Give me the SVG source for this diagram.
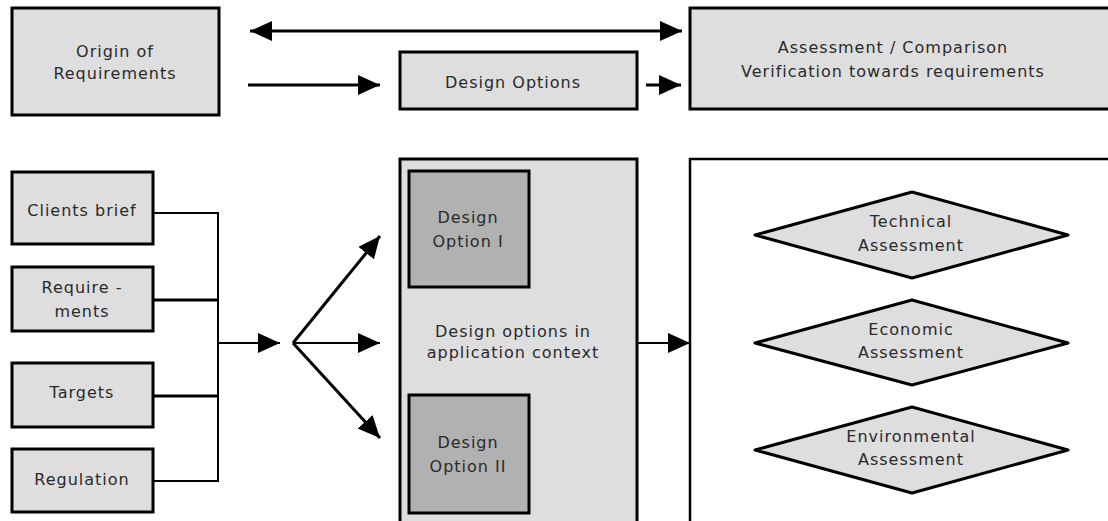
<svg xmlns="http://www.w3.org/2000/svg" width="1108" height="521" viewBox="0 0 1108 521">
  <style>
    .box { fill: #dedede; stroke: #000; stroke-width: 3; }
    .inner { fill: #b1b1b1; stroke: #000; stroke-width: 3; }
    .panel { fill: #fff; stroke: #000; stroke-width: 2.5; }
    .dia { fill: #dedede; stroke: #000; stroke-width: 3; stroke-linejoin: round; }
    .lbl { font-family: "DejaVu Sans", Verdana, sans-serif; font-size: 16px; letter-spacing: 1px; fill: #2a2a2a; text-anchor: middle; }
    .wire { fill: none; stroke: #000; stroke-width: 2; }
    .thick { fill: none; stroke: #000; stroke-width: 3; }
  </style>
  <defs>
    <marker id="head" viewBox="0 0 22 20" refX="22" refY="10" markerWidth="22" markerHeight="20" markerUnits="userSpaceOnUse" orient="auto-start-reverse">
      <path d="M0,0 L22,10 L0,20 Z" fill="#000"/>
    </marker>
  </defs>

  <rect width="1108" height="521" fill="#fff"/>

  <!-- top row -->
  <g id="origin">
    <rect class="box" x="12" y="8" width="207" height="107"/>
    <text class="lbl" x="115" y="57">Origin of</text>
    <text class="lbl" x="115" y="79">Requirements</text>
  </g>
  <g id="design-options">
    <rect class="box" x="400" y="52" width="237" height="57"/>
    <text class="lbl" x="513" y="88">Design Options</text>
  </g>
  <g id="assessment">
    <rect class="box" x="690" y="8" width="425" height="101"/>
    <text class="lbl" x="893" y="53">Assessment / Comparison</text>
    <text class="lbl" x="893" y="77">Verification towards requirements</text>
  </g>

  <!-- bottom row: inputs -->
  <g id="clients-brief">
    <rect class="box" x="12" y="172" width="141" height="72"/>
    <text class="lbl" x="82" y="216">Clients brief</text>
  </g>
  <g id="requirements">
    <rect class="box" x="12" y="267" width="141" height="64"/>
    <text class="lbl" x="82" y="293">Require -</text>
    <text class="lbl" x="82" y="317">ments</text>
  </g>
  <g id="targets">
    <rect class="box" x="12" y="363" width="141" height="64"/>
    <text class="lbl" x="82" y="398">Targets</text>
  </g>
  <g id="regulation">
    <rect class="box" x="12" y="449" width="141" height="63"/>
    <text class="lbl" x="82" y="485">Regulation</text>
  </g>

  <!-- design options in application context -->
  <g id="context">
    <rect class="box" x="400" y="159" width="237" height="375"/>
    <text class="lbl" x="513" y="337">Design options in</text>
    <text class="lbl" x="513" y="358">application context</text>
  </g>
  <g id="option-1">
    <rect class="inner" x="409" y="171" width="120" height="116"/>
    <text class="lbl" x="468" y="223">Design</text>
    <text class="lbl" x="468" y="247">Option I</text>
  </g>
  <g id="option-2">
    <rect class="inner" x="409" y="395" width="120" height="118"/>
    <text class="lbl" x="468" y="448">Design</text>
    <text class="lbl" x="468" y="472">Option II</text>
  </g>

  <!-- assessment panel -->
  <g id="panel">
    <rect class="panel" x="690" y="159" width="430" height="375"/>
  </g>
  <g id="technical">
    <polygon class="dia" points="912,192 1068,235 912,278 755,235"/>
    <text class="lbl" x="911" y="227">Technical</text>
    <text class="lbl" x="911" y="251">Assessment</text>
  </g>
  <g id="economic">
    <polygon class="dia" points="912,300 1068,343 912,385 755,343"/>
    <text class="lbl" x="911" y="335">Economic</text>
    <text class="lbl" x="911" y="358">Assessment</text>
  </g>
  <g id="environmental">
    <polygon class="dia" points="912,407 1068,450 912,493 755,450"/>
    <text class="lbl" x="911" y="442">Environmental</text>
    <text class="lbl" x="911" y="465">Assessment</text>
  </g>

  <!-- connectors -->
  <g id="connectors">
    <line class="thick" x1="250" y1="31" x2="682" y2="31" marker-start="url(#head)" marker-end="url(#head)"/>
    <line class="thick" x1="248" y1="85" x2="380" y2="85" stroke="#333" marker-end="url(#head)"/>
    <line class="thick" x1="646" y1="85" x2="681" y2="85" marker-end="url(#head)"/>

    <line class="wire" x1="153" y1="213" x2="218" y2="213"/>
    <line class="thick" x1="153" y1="300" x2="218" y2="300"/>
    <line class="thick" x1="153" y1="396" x2="218" y2="396"/>
    <line class="wire" x1="153" y1="481" x2="218" y2="481"/>
    <line class="wire" x1="218" y1="212" x2="218" y2="482"/>
    <line class="wire" x1="218" y1="343" x2="280" y2="343" marker-end="url(#head)"/>

    <line class="thick" x1="293" y1="343" x2="380" y2="236" marker-end="url(#head)"/>
    <line class="wire" x1="293" y1="343" x2="380" y2="343" marker-end="url(#head)"/>
    <line class="thick" x1="293" y1="343" x2="380" y2="438" marker-end="url(#head)"/>

    <line class="wire" x1="637" y1="343" x2="690" y2="343" marker-end="url(#head)"/>
  </g>
</svg>
